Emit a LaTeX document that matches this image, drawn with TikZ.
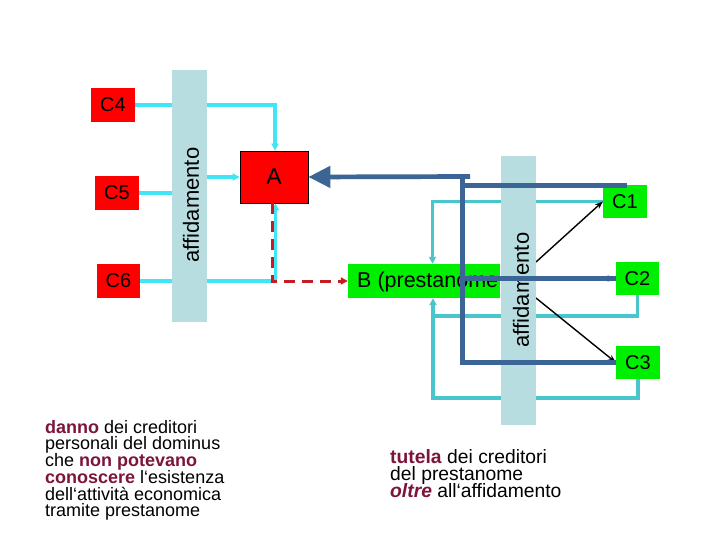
\documentclass[tikz,border=0pt]{standalone}
\usepackage{fontspec}
\setmainfont{Liberation Sans}
\usetikzlibrary{arrows.meta}
\lineskiplimit=-30pt
\definecolor{boxred}{RGB}{255,0,0}
\definecolor{boxgreen}{RGB}{0,238,0}
\definecolor{barblue}{RGB}{184,221,225}
\definecolor{cyanL}{RGB}{64,230,245}
\definecolor{cyanR}{RGB}{72,198,204}
\definecolor{darkblue}{RGB}{59,101,149}
\definecolor{dashred}{RGB}{196,30,36}
\definecolor{maroon}{RGB}{125,20,60}
\begin{document}
\begin{tikzpicture}[x=1pt,y=-1pt,
  lbl/.style={font=\fontsize{20}{22}\selectfont},
  redbox/.style={lbl,fill=boxred,inner sep=0pt,minimum width=44pt,minimum height=34pt},
  greenbox/.style={lbl,fill=boxgreen,inner sep=0pt,minimum width=44pt,minimum height=33pt},
  bar/.style={fill=barblue,inner sep=0pt},
  bartext/.style={rotate=90,font=\fontsize{22}{24}\selectfont,inner sep=0pt},
  cyl/.style={draw=cyanL,line width=3.2pt},
  cyr/.style={draw=cyanR,line width=3.2pt},
  cytip/.style={-{Triangle[length=7pt,width=7pt]}},
  blk/.style={draw=black,line width=1.4pt,-{Stealth[length=8pt,width=6pt]}},
  dbl/.style={draw=darkblue,line width=4.7pt},
  rdash/.style={draw=dashred,line width=3pt,dash pattern=on 11pt off 7pt,-{Triangle[length=7pt,width=7pt]}},
  note/.style={align=left,inner sep=0pt,anchor=north west}
]
\useasboundingbox[fill=white] (0,0) rectangle (720,540);

% boxes
\node[redbox] (C4) at (113,105) {C4};
\node[redbox] (C5) at (117,193) {C5};
\node[redbox,minimum width=43pt] (C6) at (118.5,281) {C6};
\node[redbox,draw=black,line width=0.8pt,minimum width=68pt,minimum height=52pt,font=\fontsize{23}{25}\selectfont] (A) at (274,177) {\raisebox{-2.5pt}{A}};
\node[greenbox,minimum width=152pt,minimum height=34pt] (B) at (424,281) {};
\node[font=\fontsize{21.5}{24}\selectfont,anchor=west,inner sep=0pt] (Btext) at (357,282) {B (prestanome};
\node[greenbox] (C1) at (625,201.5) {C1};
\node[greenbox,minimum width=43pt] (C2) at (637.5,278.5) {C2};
\node[greenbox] (C3) at (638,362.5) {C3};

% coordinates
\coordinate (jm) at (433,316);
\coordinate (jb) at (433,398);
\coordinate (k1) at (536,262);
\coordinate (k2) at (536,278.5);
\coordinate (k3) at (536,298);
\coordinate (d0) at (470,176.5);
\coordinate (dtop) at (462.5,174.2);
\coordinate (dv1) at (462.5,185.5);
\coordinate (d1) at (627,185.5);
\coordinate (dv2) at (462.5,278.5);

% cyan connectors left
\draw[cyl,cytip] (C4.east) -| ([xshift=1pt]A.north);
\draw[cyl,cytip] (C5.east) -- ++(51,0) |- (A.west);
\draw[cyl,cytip] (C6.east) -| ([xshift=1.5pt]A.south);
% red dashed
\draw[rdash] ([xshift=-2pt]A.south) |- (B.west);

% cyan connectors right
\draw[cyr,cytip] (C1.west) -| ([xshift=8.5pt]B.north);
\draw[cyr] (C2.south) |- (jm);
\draw[cyr,cytip] (C3.south) |- (jb) -- ([xshift=9pt]B.south);

% black arrows
\draw[blk] (k1) -- (C1.west);
\draw[blk] (k2) -- (C2.west);
\draw[blk] (k3) -- (C3.west);

% bars
\node[bar,minimum width=35pt,minimum height=252pt] (barL) at (189.5,196) {};
\node[bar,minimum width=35pt,minimum height=269pt] (barR) at (518.5,290.5) {};
\node[bartext] (tL) at (191,205) {affidamento};
\node[bartext] (tR) at (521,290) {affidamento};

% dark blue lines
\draw[dbl,-{Triangle[length=22pt,width=21pt]}] (d0) -- (A.east);
\draw[dbl] (C3.west) -| (dtop);
\draw[dbl] (dv1) -- (d1);
\draw[dbl] (dv2) -- (C2.west);

% notes
\node[note,font=\fontsize{18}{16.7}\selectfont] (noteL) at (45,420) {%
\textcolor{maroon}{\textbf{danno}} dei creditori\\
personali del dominus\\
che \textcolor{maroon}{\textbf{non potevano}}\\
\textcolor{maroon}{\textbf{conoscere}} l‘esistenza\\
dell‘attività economica\\
tramite prestanome};
\node[note,font=\fontsize{19.3}{17.4}\selectfont] (noteR) at (390,449) {%
\textcolor{maroon}{\textbf{tutela}} dei creditori\\
del prestanome\\
\textcolor{maroon}{\textbf{\textit{oltre}}} all‘affidamento};
\end{tikzpicture}
\end{document}
